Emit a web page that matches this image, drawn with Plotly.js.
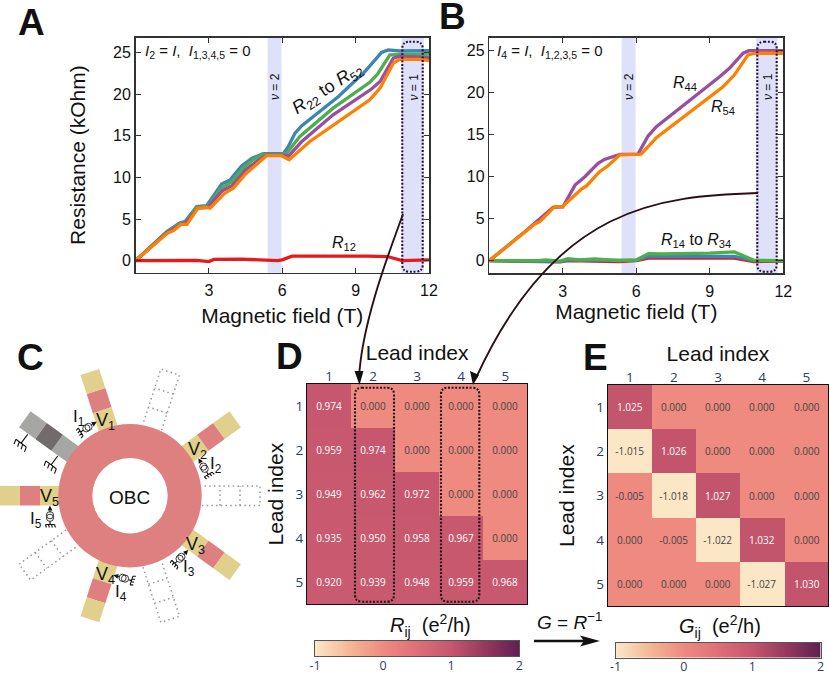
<!DOCTYPE html>
<html><head><meta charset="utf-8">
<script src="https://cdn.plot.ly/plotly-3.0.1.min.js"></script>
<style>html,body{margin:0;padding:0;background:#fff}</style></head>
<body><div id="chart" style="width:830px;height:674px"></div>
<script>
// ---------- Panel A data (T, kOhm)
const aBlueX=[0,1.28,1.82,2.02,2.5,2.91,3.52,3.86,4.34,4.75,5.22,6.04,6.25,6.52,6.8,8.3,9.38,10.06,10.33,10.8,12];
const aBlueY=[0,3.5,4.56,4.68,6.48,6.6,9.2,9.68,11.36,12.28,12.84,12.84,13.7,15.3,16.2,19.7,22.7,25,25.3,25.16,25.2];
const aGreenX=[0,1.3,1.82,2.05,2.5,2.95,3.5,3.9,4.4,4.8,5.25,6.05,6.18,6.72,8.08,9.58,9.9,10.4,12];
const aGreenY=[0,3.45,4.4,4.6,6.4,6.5,8.7,9.4,11.1,12.1,12.75,12.75,12.9,14.9,18.3,21.4,22.4,24.7,24.8];
const aPurpleX=[0,1.3,1.85,2.05,2.55,2.95,3.55,3.95,4.5,4.9,5.35,6.1,6.25,6.8,8.08,9.65,10,10.54,10.8,12];
const aPurpleY=[0,3.4,4.35,4.55,6.3,6.4,8.4,9,10.9,11.8,12.65,12.65,12.55,14.3,17.5,20.6,21.5,24.3,24.5,24.4];
const aOrangeX=[0,1.3,1.55,1.85,2.1,2.55,2.95,3.05,3.65,4,4.5,5.36,5.97,6.28,7.13,9.58,10,10.54,10.8,11.6,12];
const aOrangeY=[0,3.3,3.6,4.35,4.35,6.3,6.4,6.3,8.1,8.7,10.4,12.6,12.6,12.1,14.3,19.3,20.7,23.7,24.16,24.16,24];
const aRedX=[0,2.5,3,3.2,4.3,5.3,5.8,6,6.4,9.5,10.3,10.9,12];
const aRedY=[0,0.05,-0.1,0.15,0.2,0.1,0,0.1,0.55,0.55,0.5,0,0.1];
// ---------- Panel B data
const bPurpleX=[0,1.45,2.6,3,3.5,3.9,4.44,4.7,5.33,6.07,6.48,6.82,9.4,9.8,10.36,10.6,12];
const bPurpleY=[0,3.45,6.35,6.4,9,10,11.6,12.06,12.66,12.7,14.84,15.95,21.9,22.9,24.7,25,25];
const bOrangeX=[0,1.45,1.86,2.06,2.67,2.99,3.76,3.97,4.5,4.85,5.33,6.2,6.82,9.54,10,10.56,10.84,12];
const bOrangeY=[0,3.4,4.37,4.64,6.43,6.43,8.53,8.9,10.6,11.3,12.6,12.7,14.64,20.7,22.1,24.5,24.7,24.7];
const bGreenX=[0,2,2.3,2.9,3.2,3.7,4.3,5.3,6,6.5,7,9,10,10.4,10.8,12];
const bGreenY=[0,0,0.1,-0.05,0.25,0.1,0.2,0,0.1,0.85,0.8,0.9,1.05,0.6,0.05,0];
const bBlueX=[0,2.9,3.2,5.3,6,6.5,10,10.8,12];
const bBlueY=[0,-0.1,0.1,0,0.05,0.5,0.5,0,0];
const bRedX=[0,2.9,3.2,5.3,6,6.5,10,10.8,12];
const bRedY=[0,-0.15,0,-0.1,0,0.3,0.3,-0.1,-0.05];
// ---------- Matrices
const leadIdx=[1,2,3,4,5];
const resistance=[[0.974,0,0,0,0],[0.959,0.974,0,0,0],[0.949,0.962,0.972,0,0],[0.935,0.950,0.958,0.967,0],[0.920,0.939,0.948,0.959,0.968]];
const conductance=[[1.025,0,0,0,0],[-1.015,1.026,0,0,0],[-0.005,-1.018,1.027,0,0],[0,-0.005,-1.022,1.032,0],[0,0,0,-1.027,1.030]];
const cbTicks=[-1,0,1,2];
const cbRamp=[-1,-0.75,-0.5,-0.25,0,0.25,0.5,0.75,1,1.25,1.5,1.75,2];
const fieldTicks=[3,6,9,12];
const resTicks=[0,5,10,15,20,25];
const colorStops=[[0,'#FBE7C6'],[0.1667,'#F4B796'],[0.3333,'#EE8A80'],[0.5,'#DE6F78'],[0.6667,'#C5566D'],[0.8333,'#95385F'],[1,'#5E2050']];
const seriesColors={blue:'#3D85B8',green:'#4DAF4A',purple:'#984EA3',orange:'#FF7F00',red:'#E41A1C'};

const W=830,H=674;
const dx=(a,b)=>[a/W,b/W], dy=(t,b)=>[1-b/H,1-t/H];
const F='"Liberation Sans",Arial,sans-serif', OS='"Open Sans",sans-serif';

function line(x,y,c,xa,ya){return {type:'scatter',mode:'lines',x,y,xaxis:xa,yaxis:ya,line:{color:c,width:3.3},hoverinfo:'skip',showlegend:false};}
function heat(z,xa,ya){return {type:'heatmap',z,x:leadIdx,y:leadIdx,xaxis:xa,yaxis:ya,zmin:-1,zmax:2,colorscale:colorStops,xgap:0,ygap:0,showscale:false,
  texttemplate:'%{z:.3f}',textfont:{size:10,family:OS},hoverinfo:'skip'};}
function ramp(xa,ya){return {type:'heatmap',z:[cbRamp,cbRamp],x:cbRamp,y:[0,1],xaxis:xa,yaxis:ya,zmin:-1,zmax:2,colorscale:colorStops,zsmooth:'best',showscale:false,hoverinfo:'skip'};}

const data=[
 line(aBlueX,aBlueY,seriesColors.blue,'x','y'),line(aGreenX,aGreenY,seriesColors.green,'x','y'),line(aPurpleX,aPurpleY,seriesColors.purple,'x','y'),line(aOrangeX,aOrangeY,seriesColors.orange,'x','y'),line(aRedX,aRedY,seriesColors.red,'x','y'),
 line(bRedX,bRedY,seriesColors.red,'x2','y2'),line(bBlueX,bBlueY,seriesColors.blue,'x2','y2'),line(bGreenX,bGreenY,seriesColors.green,'x2','y2'),line(bPurpleX,bPurpleY,seriesColors.purple,'x2','y2'),line(bOrangeX,bOrangeY,seriesColors.orange,'x2','y2'),
 heat(resistance,'x3','y3'),heat(conductance,'x4','y4'),
 {type:'scatter',x:[0],y:[0],xaxis:'x5',yaxis:'y5',mode:'markers',marker:{opacity:0},hoverinfo:'skip',showlegend:false},
 ramp('x6','y6'),ramp('x7','y7')
];

function lineAxis(dom,range,tv,title,standoff,anchor,tls){return {domain:dom,range,tickmode:'array',tickvals:tv,ticktext:tv.map(String),ticks:'inside',ticklen:5,tickwidth:1,tickcolor:'#333',showline:true,mirror:'ticks',linecolor:'#333',linewidth:1.5,showgrid:false,zeroline:false,fixedrange:true,anchor,ticklabelstandoff:tls||0,
 tickfont:{family:F,size:16,color:'#111'},title:title?{text:title,standoff,font:{family:F,size:21,color:'#111'}}:undefined};}
function heatX(dom,anchor,so){return {domain:dom,anchor,side:'top',range:[0.5,5.5],tickmode:'array',tickvals:leadIdx,ticks:'',ticklabelstandoff:-3,showline:true,mirror:true,linecolor:'#111',linewidth:1,showgrid:false,zeroline:false,fixedrange:true,tickfont:{family:OS,size:13.5,color:'#2a3f5f'},title:{text:'Lead index',standoff:so,font:{family:F,size:21,color:'#111'}}};}
function heatY(dom,anchor,so){return {domain:dom,anchor,range:[5.5,0.5],tickmode:'array',tickvals:leadIdx,ticks:'',showline:true,mirror:true,linecolor:'#111',linewidth:1,showgrid:false,zeroline:false,fixedrange:true,tickfont:{family:OS,size:13.5,color:'#2a3f5f'},title:{text:'Lead index',standoff:so,font:{family:F,size:21,color:'#111'}}};}
function barX(dom,anchor,tls){return {domain:dom,anchor,range:[-1,2],tickmode:'array',tickvals:cbTicks,ticktext:cbTicks.map(String),ticks:'',ticklabelstandoff:tls,showline:true,mirror:true,linecolor:'#555',linewidth:1,showgrid:false,zeroline:false,fixedrange:true,tickfont:{family:OS,size:12.5,color:'#2a3f5f'}};}
function barY(dom,anchor){return {domain:dom,anchor,range:[0,1],showticklabels:false,ticks:'',showline:true,mirror:true,linecolor:'#555',linewidth:1,showgrid:false,zeroline:false,fixedrange:true};}

// ---------- Overlay drawing helpers (overlay axis uses page pixels)
const shapes=[];
const ov={xref:'x5',yref:'y5',layer:'above'};
function addPath(path,o){shapes.push(Object.assign({type:'path',path},ov,o));}
const pol=(cx,cy,r,a,off)=>{const t=a*Math.PI/180;return [cx+r*Math.cos(t)-off*Math.sin(t),cy-r*Math.sin(t)-off*Math.cos(t)];};
const P=p=>p[0].toFixed(2)+','+p[1].toFixed(2);
const CX=130,CY=495.7,HW=9.8;
function seg(a,r0,r1,col){const c=[pol(CX,CY,r0,a,-HW),pol(CX,CY,r1,a,-HW),pol(CX,CY,r1,a,HW),pol(CX,CY,r0,a,HW)];
 addPath('M'+c.map(P).join('L')+'Z',{fillcolor:col,line:{width:0}});}
function roundBox(x0,y0,x1,y1,r,col){addPath(`M${x0+r},${y0}L${x1-r},${y0}Q${x1},${y0} ${x1},${y0+r}L${x1},${y1-r}Q${x1},${y1} ${x1-r},${y1}L${x0+r},${y1}Q${x0},${y1} ${x0},${y1-r}L${x0},${y0+r}Q${x0},${y0} ${x0+r},${y0}Z`,{line:{color:col,width:2.1,dash:'1.9px,1.7px'},fillcolor:'rgba(0,0,0,0)'});}
function ground(x,y,ux,uy,stem,hw,tooth,col){
 const ex=x+ux*stem,ey=y+uy*stem,nx=-uy,ny=ux;
 let p=`M${x},${y}L${ex},${ey}M${ex-nx*hw},${ey-ny*hw}L${ex+nx*hw},${ey+ny*hw}`;
 for(let i=0;i<4;i++){const k=-hw+i*(2*hw/3);const bx=ex+nx*k,by=ey+ny*k;p+=`M${bx},${by}L${bx+(ux-0.3*nx)*tooth},${by+(uy-0.3*ny)*tooth}`;}
 addPath(p,{line:{color:col,width:1.1}});
}
function source(tx,ty,sx,sy){
 const L=Math.hypot(tx-sx,ty-sy),ux=(sx-tx)/L,uy=(sy-ty)/L,nx=-uy,ny=ux;
 addPath(`M${tx},${ty}L${tx+ux*5+nx*2.4},${ty+uy*5+ny*2.4}L${tx+ux*5-nx*2.4},${ty+uy*5-ny*2.4}Z`,{fillcolor:'#111',line:{width:0}});
 addPath(`M${tx+ux*5},${ty+uy*5}L${tx+ux*7},${ty+uy*7}`,{line:{color:'#111',width:1}});
 [9.7,12.3].forEach(d=>{const c=[tx+ux*d,ty+uy*d];shapes.push(Object.assign({type:'circle',x0:c[0]-3.6,x1:c[0]+3.6,y0:c[1]-3.6,y1:c[1]+3.6,line:{color:'#222',width:0.9},fillcolor:'rgba(0,0,0,0)'},ov));});
 ground(tx+ux*16,ty+uy*16,ux,uy,3,4.5,3,'#111');
}
// leads
const leadAngles=[108,36,-36,-108,180];
const groundedAngle=144;
const openAngles=[72,0,-72,-144];
const segRadii=[70,90,110,130];
leadAngles.forEach(a=>{seg(a,segRadii[0],segRadii[1],'#E0D08C');seg(a,segRadii[1],segRadii[2],'#DE8080');seg(a,segRadii[2],segRadii[3],'#E0D08C');});
seg(groundedAngle,70,90,'#A6A6A4');seg(groundedAngle,90,110,'#716B6B');seg(groundedAngle,110,130,'#A6A6A4');
openAngles.forEach(a=>{
 const p=(r,o)=>P(pol(CX,CY,r,a,o));
 addPath(`M${p(72,-HW)}L${p(130,-HW)}L${p(130,HW)}L${p(72,HW)}M${p(90,-HW)}L${p(90,HW)}M${p(110,-HW)}L${p(110,HW)}`,{line:{color:'#999',width:1.5,dash:'1.5px,3.2px'}});
});
shapes.push(Object.assign({type:'circle',x0:CX-71.7,x1:CX+71.7,y0:CY-71.7,y1:CY+71.7,fillcolor:'#DE8080',line:{width:0}},ov));
shapes.push(Object.assign({type:'circle',x0:CX-37.7,x1:CX+37.7,y0:CY-37.7,y1:CY+37.7,fillcolor:'#fff',line:{width:0}},ov));
ground(27.7,434.3,-0.6,0.8,11,6.5,5,'#111');
ground(57.7,456,-0.6,0.8,11,6.5,5,'#111');
source(96.7,421.7,87.3,427.7);source(198.3,458.3,204,467.7);source(188.3,550,180,558.3);source(113.3,575,124,578.3);source(50,505.5,50,516.7);
// dotted boxes
const DARK='#2A1030';
roundBox(402.3,41.7,422.7,271.7,7,DARK);roundBox(757.3,41.7,776.7,271.7,7,DARK);
roundBox(355,387.7,394,601.7,7,'#111');roundBox(441,387.7,479.3,601.7,7,'#111');
// curved links
const LINK='#2A1014';
addPath('M403,214C392,245 362,320 359,378',{line:{color:LINK,width:1.9}});
addPath('M354.5,371L363.5,371L359.5,385Z',{fillcolor:'#111',line:{width:0}});
addPath('M758,193C660,196 555,205 476,378',{line:{color:LINK,width:1.9}});
addPath('M470,371L479,375L473,385Z',{fillcolor:'#111',line:{width:0}});
// G=R^-1 arrow
addPath('M534,641L590,641',{line:{color:'#111',width:2.4}});
addPath('M580,635.5L600,641L580,646.5L584,641Z',{fillcolor:'#111',line:{width:0}});

// bands
[['x','y',5.4,5.97],['x','y',10.88,11.79],['x2','y2',5.4,5.97],['x2','y2',10.88,11.76]].forEach(b=>{
 shapes.push({type:'rect',xref:b[0],yref:b[1]+' domain',x0:b[2],x1:b[3],y0:0,y1:1,fillcolor:'#DFE1FB',line:{width:0},layer:'below'});
});

// annotations
const ann=[];
function txt(x,y,text,size,o){ann.push(Object.assign({xref:'x5',yref:'y5',x,y,text,showarrow:false,xanchor:'center',yanchor:'middle',font:{family:F,size,color:'#111'},borderpad:0},o||{}));}
const iv=s=>'<i>'+s+'</i>';
txt(31,22,'<b>A</b>',37);txt(452,16,'<b>B</b>',37);txt(30,357,'<b>C</b>',37);txt(289,356,'<b>D</b>',37);txt(595,357,'<b>E</b>',37);
txt(144,51,iv('I')+'<sub>2</sub> = '+iv('I')+',  '+iv('I')+'<sub>1,3,4,5</sub> = 0',15,{xanchor:'left'});
txt(496,51,iv('I')+'<sub>4</sub> = '+iv('I')+',  '+iv('I')+'<sub>1,2,3,5</sub> = 0',15,{xanchor:'left'});
txt(275,87,iv('ν')+' = 2',12,{textangle:-90});txt(413.5,87,iv('ν')+' = 1',12,{textangle:-90});
txt(629,87,iv('ν')+' = 2',12,{textangle:-90});txt(768,87,iv('ν')+' = 1',12,{textangle:-90});
txt(327,89,iv('R')+'<sub>22</sub> to '+iv('R')+'<sub>52</sub>',18,{textangle:-33});
txt(344,243,iv('R')+'<sub>12</sub>',16);
txt(685,83,iv('R')+'<sub>44</sub>',16);txt(723,107,iv('R')+'<sub>54</sub>',16);
txt(696,240,iv('R')+'<sub>14</sub> to '+iv('R')+'<sub>34</sub>',16);
txt(129,497,'OBC',19);
[[105,421,1],[197,450.7,2],[195,545,3],[105,575,4],[49,497,5]].forEach(v=>txt(v[0],v[1],'V<sub>'+v[2]+'</sub>',18));
[[79,418,1],[216,465,2],[189,568,3],[121,593,4],[36,520,5]].forEach(v=>txt(v[0],v[1],'I<sub>'+v[2]+'</sub>',17));
txt(430,625,iv('R')+'<sub>ij</sub>  (e<sup>2</sup>/h)',20);
txt(720,626,iv('G')+'<sub>ij</sub>  (e<sup>2</sup>/h)',20);
txt(569,621,iv('G')+' = '+iv('R')+'<sup>−1</sup>',19);

const layout={width:W,height:H,margin:{l:0,r:0,t:0,b:0,pad:0,autoexpand:false},paper_bgcolor:'#fff',plot_bgcolor:'rgba(0,0,0,0)',showlegend:false,font:{family:F,color:'#111'},
 xaxis:lineAxis(dx(135.5,429),[0,12],fieldTicks,'Magnetic field (T)',10,'y',3),
 yaxis:lineAxis(dy(37.5,272.7),[-1.44,26.78],resTicks,'Resistance (kOhm)',21,'x',0),
 xaxis2:lineAxis(dx(489.3,783.3),[0,12],fieldTicks,'Magnetic field (T)',0,'y2',3),
 yaxis2:lineAxis(dy(37.7,273.3),[-1.5,26.55],resTicks,null,0,'x2',0),
 xaxis3:heatX(dx(307,527.3),'y3',0),yaxis3:heatY(dy(384,604.3),'x3',6),
 xaxis4:heatX(dx(607.7,828.3),'y4',0),yaxis4:heatY(dy(385,606.3),'x4',15),
 xaxis5:{domain:[0,1],range:[0,W],visible:false,fixedrange:true,anchor:'y5'},
 yaxis5:{domain:[0,1],range:[H,0],visible:false,fixedrange:true,anchor:'x5'},
 xaxis6:barX(dx(315,519.3),'y6',-2),yaxis6:barY(dy(641,656),'x6'),
 xaxis7:barX(dx(615.5,820.7),'y7',-3),yaxis7:barY(dy(642.5,658),'x7'),
 shapes,annotations:ann};
Plotly.newPlot('chart',data,layout,{displayModeBar:false,staticPlot:true});
</script></body></html>
